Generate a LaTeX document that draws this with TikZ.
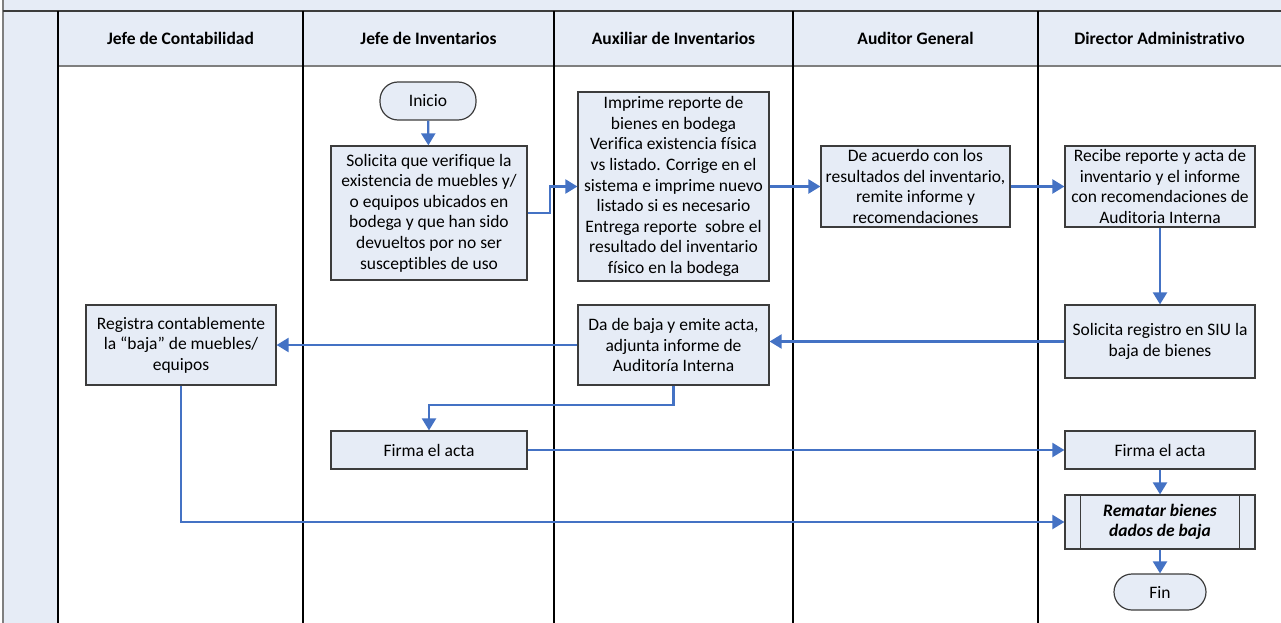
\documentclass[tikz,border=0pt]{standalone}
\usepackage{fontspec}
\setmainfont{Carlito}[Ligatures=NoCommon]
\usetikzlibrary{arrows.meta}
\definecolor{paleblue}{HTML}{E6ECF6}
\definecolor{flowblue}{HTML}{4472C4}
\definecolor{boxline}{HTML}{3C3C3C}
\definecolor{gridline}{HTML}{7F7F7F}
\begin{document}
\begin{tikzpicture}[x=1pt,y=-1pt,
  lanehead/.style={font=\fontsize{17.5}{20}\selectfont\bfseries, anchor=center},
  procbox/.style={draw=boxline, line width=1.2pt, fill=paleblue, align=center,
    font=\fontsize{17.5}{20.6}\selectfont, inner sep=0pt},
  termbox/.style={procbox, rounded corners=18pt},
  flow/.style={draw=flowblue, line width=2.2pt, -{Triangle[length=12pt,width=14pt]}}
]
\useasboundingbox (0,0) rectangle (1281,623);

% swimlane frame
\fill[paleblue] (3,0) rectangle (1281,11);
\fill[paleblue] (3,11) rectangle (58,623);
\fill[paleblue] (58,11) rectangle (1281,66);
\draw[gridline, line width=1.5pt] (3,0) -- (3,623);
\draw[boxline, line width=2pt] (3,11) -- (1281,11);
\draw[gridline, line width=2pt] (58,66) -- (1281,66);
\foreach \lx in {58,303,554,793,1038}
  \draw[black, line width=1.4pt] (\lx,11) -- (\lx,623);

% lane titles
\node[lanehead] (h1) at (180.5,38) {Jefe de Contabilidad};
\node[lanehead] (h2) at (428.5,38) {Jefe de Inventarios};
\node[lanehead] (h3) at (673.5,38) {Auxiliar de Inventarios};
\node[lanehead] (h4) at (915.5,38) {Auditor General};
\node[lanehead] (h5) at (1159.5,38) {Director Administrativo};

% steps
\node[termbox, minimum width=96pt, minimum height=38pt] (ini) at (428,101) {Inicio};
\node[procbox, minimum width=196pt, minimum height=134pt] (sol) at (429,213)
  {Solicita que verifique la\\existencia de muebles y/\\o equipos ubicados en\\bodega y que han sido\\devueltos por no ser\\susceptibles de uso};
\node[procbox, minimum width=191pt, minimum height=189pt] (imp) at (673.5,186.5)
  {Imprime reporte de\\bienes en bodega\\Verifica existencia física\\vs listado. Corrige en el\\sistema e imprime nuevo\\listado si es necesario\\Entrega reporte\ \ sobre el\\resultado del inventario\\físico en la bodega};
\node[procbox, minimum width=189pt, minimum height=81pt] (acu) at (915.5,186.5)
  {De acuerdo con los\\resultados del inventario,\\remite informe y\\recomendaciones};
\node[procbox, minimum width=190pt, minimum height=81pt] (rec) at (1160,186.5)
  {Recibe reporte y acta de\\inventario y el informe\\con recomendaciones de\\Auditoria Interna};
\node[procbox, minimum width=190pt, minimum height=73pt] (siu) at (1160,341.5)
  {Solicita registro en SIU la\\baja de bienes};
\node[procbox, minimum width=191pt, minimum height=80pt] (baja) at (673.5,345)
  {Da de baja y emite acta,\\adjunta informe de\\Auditoría Interna};
\node[procbox, minimum width=190pt, minimum height=80pt] (reg) at (181,345)
  {Registra contablemente\\la “baja” de muebles/\\equipos};
\node[procbox, minimum width=196pt, minimum height=38pt] (firmaL) at (429,450) {Firma el acta};
\node[procbox, minimum width=190pt, minimum height=38pt] (firmaR) at (1160,450) {Firma el acta};
\node[procbox, minimum width=190pt, minimum height=54pt,
  font=\fontsize{17.5}{20.6}\selectfont\bfseries\itshape] (rem) at (1160,522)
  {Rematar bienes\\dados de baja};
\draw[boxline, line width=1.2pt] ([xshift=16pt]rem.north west) -- ([xshift=16pt]rem.south west);
\draw[boxline, line width=1.2pt] ([xshift=-16pt]rem.north east) -- ([xshift=-16pt]rem.south east);
\node[termbox, minimum width=92pt, minimum height=36pt] (fin) at (1160,592) {Fin};

% connectors
\draw[flow] (ini) -- (sol);
\draw[flow] (sol.east) -- ++(22,0) |- (imp.west);
\draw[flow] (imp) -- (acu);
\draw[flow] (acu) -- (rec);
\draw[flow] (rec) -- (siu);
\draw[flow] (siu.west) -- (baja.east |- siu.west);
\draw[flow] (baja) -- (reg);
\draw[flow] (baja.south) -- ++(0,19) -| (firmaL.north);
\draw[flow] (firmaL) -- (firmaR);
\draw[flow] (firmaR) -- (rem);
\draw[flow] (reg.south) |- (rem.west);
\draw[flow] (rem) -- (fin);
\end{tikzpicture}
\end{document}
